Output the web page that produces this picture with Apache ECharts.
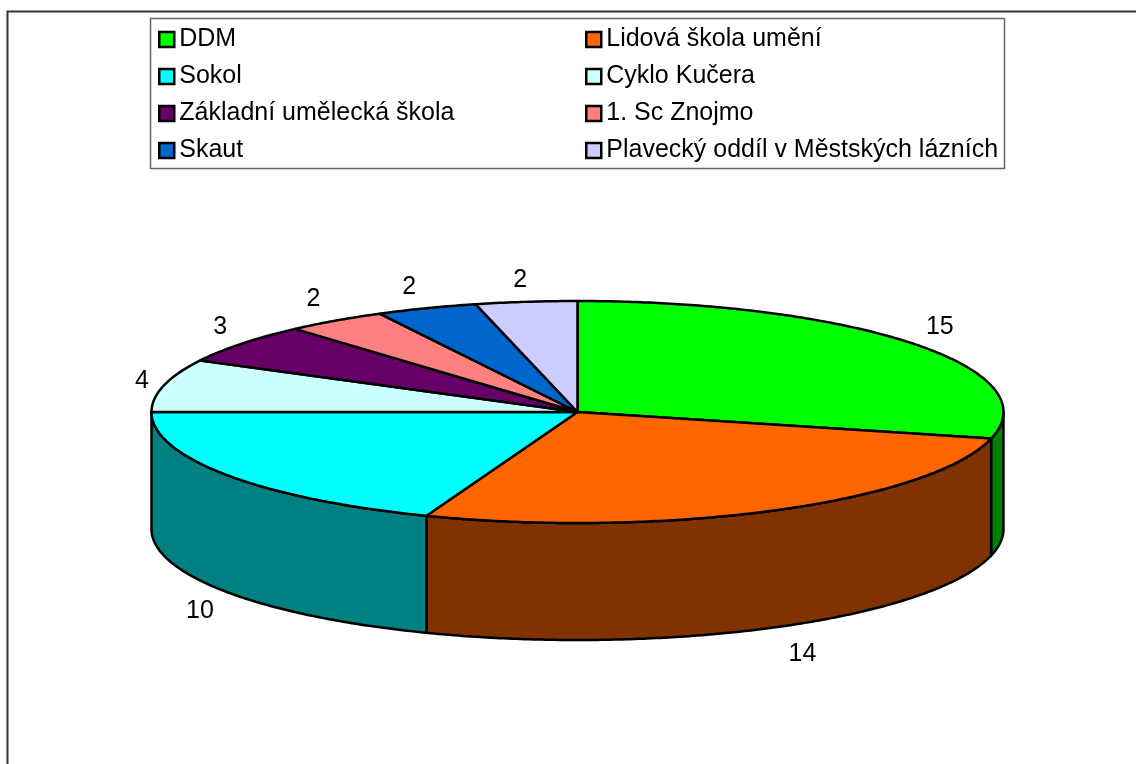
<!DOCTYPE html>
<html><head><meta charset="utf-8">
<style>html,body{margin:0;padding:0;background:#fff}#c{width:1136px;height:764px}</style>
<script src="https://cdn.jsdelivr.net/npm/echarts@6/dist/echarts.min.js"></script>
</head><body><div id="c"></div>
<script>
const categories = ['DDM','Lidová škola umění','Sokol','Cyklo Kučera','Základní umělecká škola','1. Sc Znojmo','Skaut','Plavecký oddíl v Městských lázních'];
const values = [15,14,10,4,3,2,2,2];
const topColors = ['#00FF00','#FF6600','#00FFFF','#CCFFFF','#660066','#FF8080','#0066CC','#CCCCFF'];
const sideColors = ['#008000','#803300','#008080','#66A0A0','#330033','#804040','#003366','#666680'];
const leftLegend = [0,2,4,6].map(i=>categories[i]);
const rightLegend = [1,3,5,7].map(i=>categories[i]);

const CX=577.5, CY=412, RX=426, RY=111, DEPTH=117;
const FONT='"Liberation Sans", Arial, sans-serif';
const total = values.reduce((a,b)=>a+b,0);
const toAngle = v => v/total*Math.PI*2;
const pt = (a,dy=0)=>[CX+RX*Math.sin(a), CY-RY*Math.cos(a)+dy];
function arc(a0,a1,dy){const n=Math.max(2,Math.ceil((a1-a0)/0.01));const out=[];for(let i=0;i<=n;i++)out.push(pt(a0+(a1-a0)*i/n,dy));return out;}
const clamp=(x,m)=>Math.max(-m,Math.min(m,x));

function makeRender(idx){
  return function(params, api){
    const v = api.value(0), start = api.value(1);
    const a0=toAngle(start), a1=toAngle(start+v), mid=(a0+a1)/2;
    const kids=[];
    const line={stroke:'#000',lineWidth:2.5,lineJoin:'round'};
    const w0=Math.max(a0,Math.PI/2), w1=Math.min(a1,Math.PI*1.5);
    if(w1>w0){
      kids.push({type:'polygon',shape:{points:arc(w0,w1,0).concat(arc(w0,w1,DEPTH).reverse())},style:Object.assign({fill:sideColors[idx]},line)});
    }
    kids.push({type:'polygon',shape:{points:[[CX,CY]].concat(arc(a0,a1,0))},style:Object.assign({fill:topColors[idx]},line)});
    const s=Math.sin(mid), c=Math.cos(mid);
    const base=pt(mid, c<0?DEPTH:0);
    const mx = (s>0 || c<0) ? 27 : 22;
    kids.push({type:'text',z2:10,style:{text:String(v),x:base[0]+mx*clamp(s*2.2,1),y:base[1]+clamp(-30*c,24)+2.5,
      align:'center',verticalAlign:'middle',fill:'#000',font:'25px '+FONT}});
    return {type:'group',children:kids};
  };
}
let cum=0;
const series = categories.map((name,i)=>{
  const s={type:'custom',name,coordinateSystem:'none',silent:true,animation:false,
    itemStyle:{color:topColors[i]},
    encode:{value:[0]},
    data:[[values[i],cum]],renderItem:makeRender(i)};
  cum+=values[i];return s;
});
const legendBase={orient:'vertical',itemWidth:15,itemHeight:15,itemGap:12,icon:'rect',selectedMode:false,padding:0,
  itemStyle:{borderColor:'#000',borderWidth:2.5},
  textStyle:{fontFamily:FONT,fontSize:25,color:'#000',padding:0}};
const chart=echarts.init(document.getElementById('c'),null,{renderer:'canvas'});
chart.setOption({
  backgroundColor:'#fff',animation:false,
  graphic:[
    {type:'rect',silent:true,z:-1,shape:{x:7.5,y:11.5,width:1200,height:800},style:{fill:'#fff',stroke:'#333',lineWidth:2}},
    {type:'rect',silent:true,z:-1,shape:{x:150.5,y:18.5,width:854,height:150},style:{fill:'#fff',stroke:'#666',lineWidth:1.5}}
  ],
  legend:[
    Object.assign({},legendBase,{left:158,top:27,data:leftLegend}),
    Object.assign({},legendBase,{left:585,top:27,data:rightLegend})
  ],
  series
});
</script></body></html>
